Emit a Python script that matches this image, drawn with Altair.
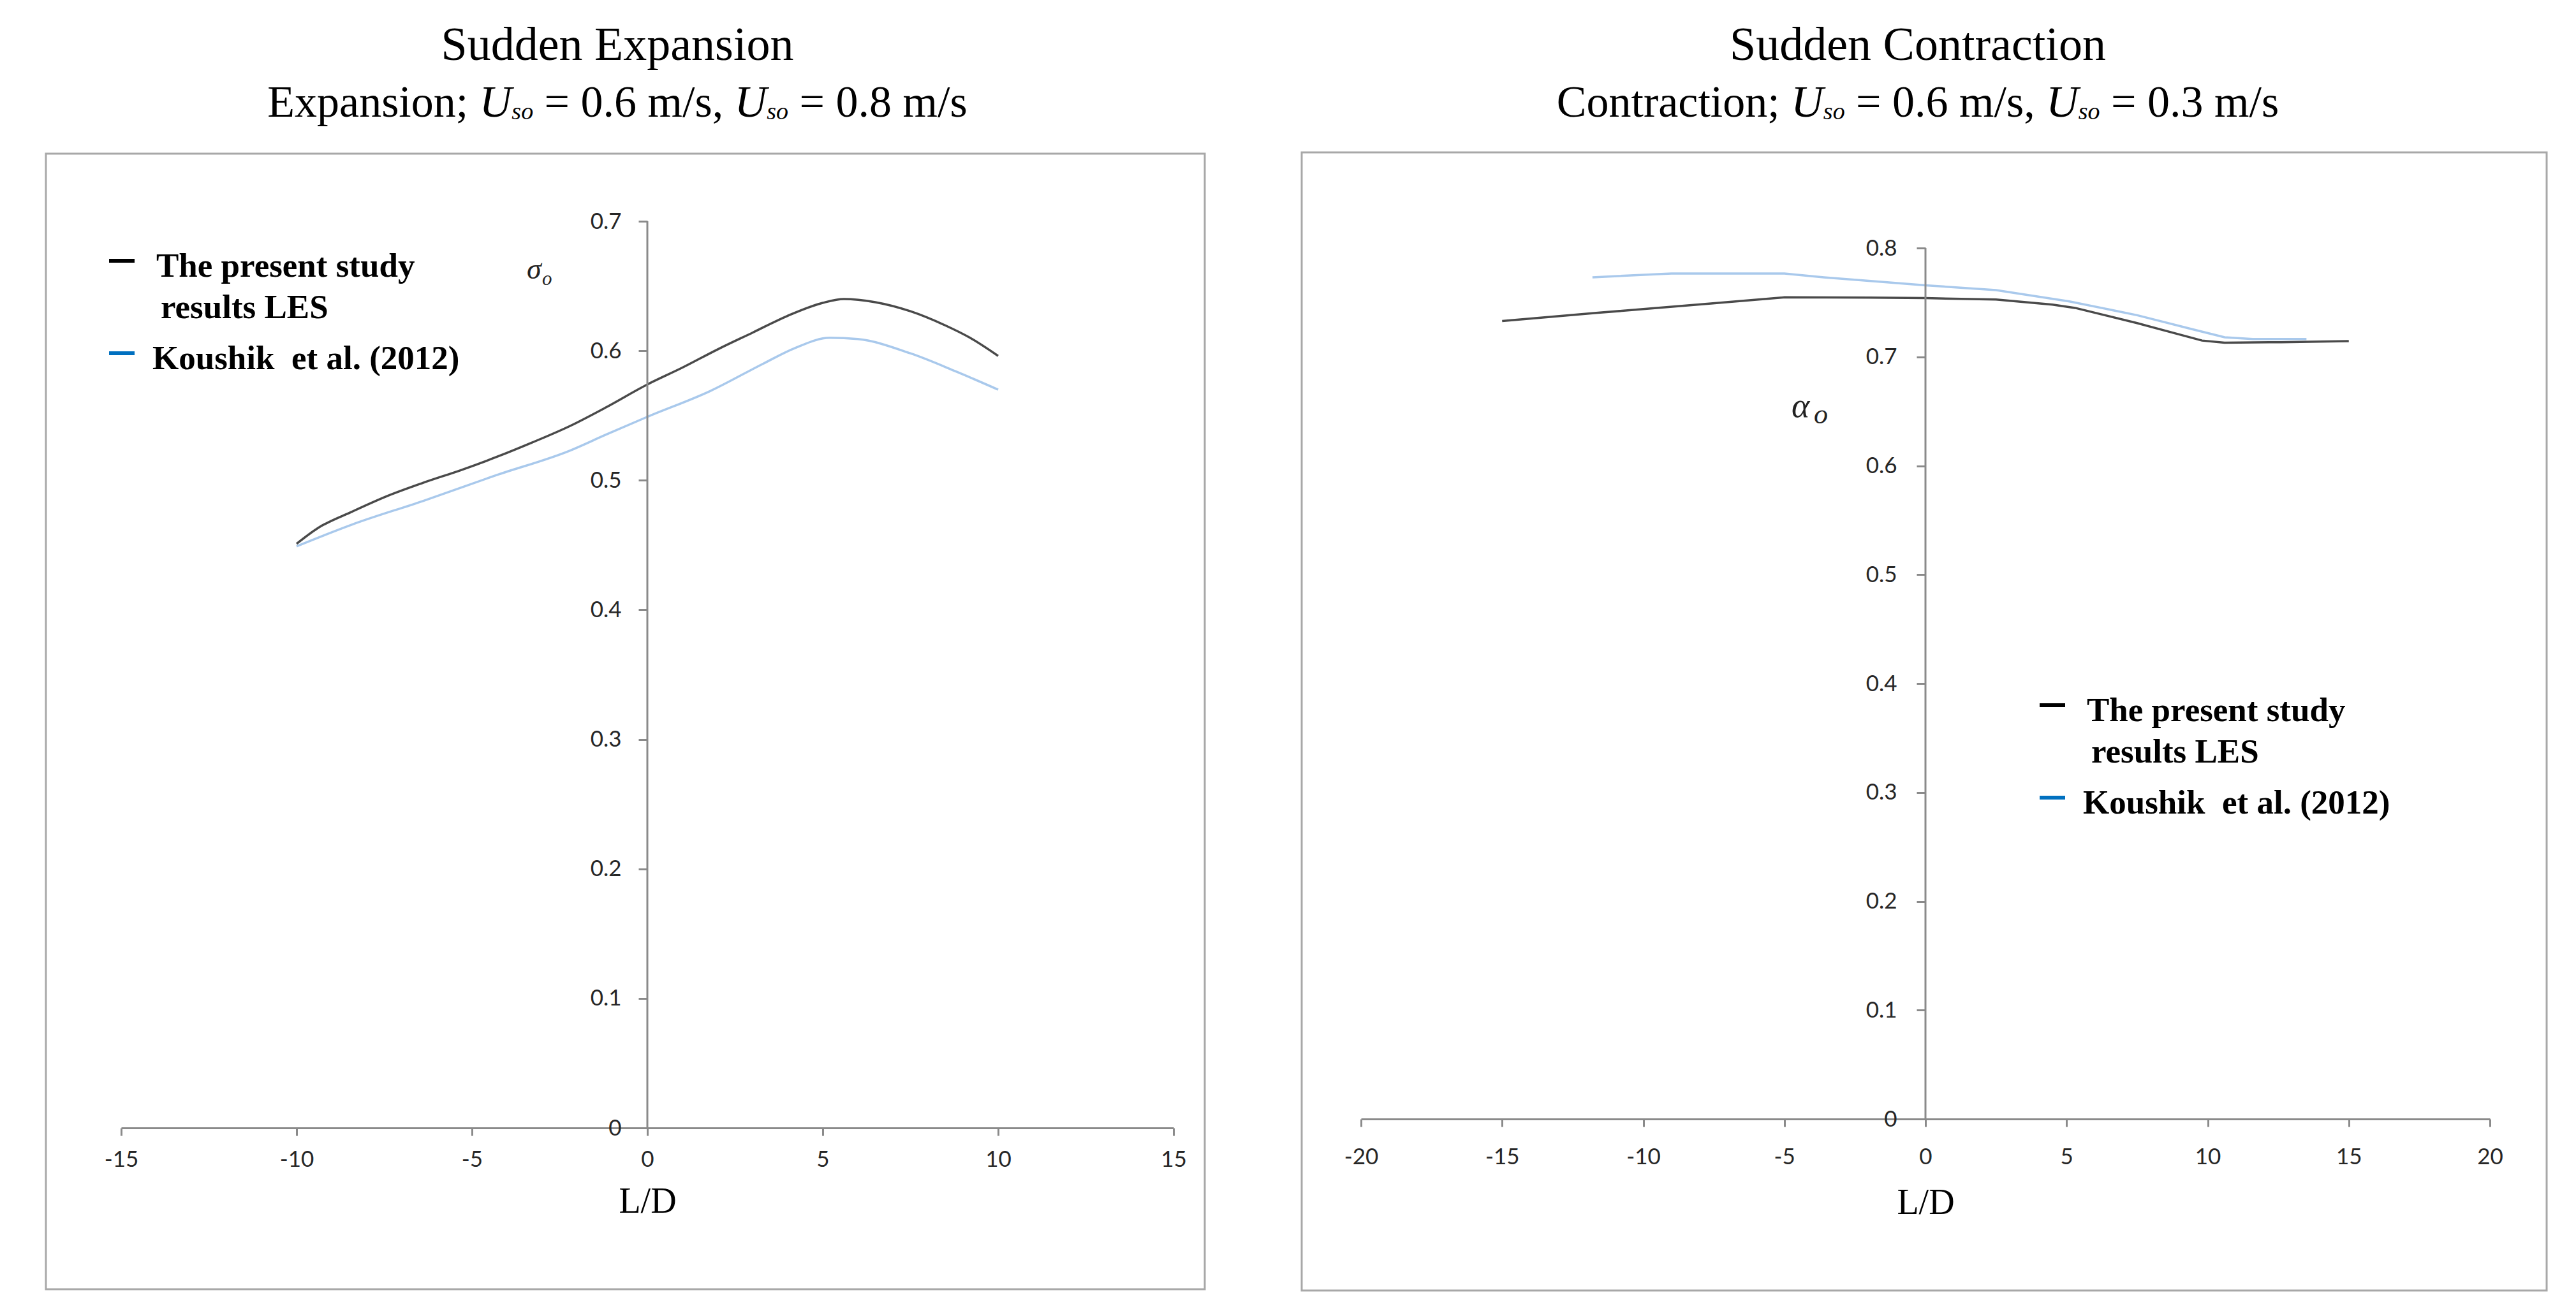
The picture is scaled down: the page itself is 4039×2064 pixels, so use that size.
import altair as alt
import pandas as pd

# ---------------- data ----------------
exp_les_x = [-10, -9.4, -8.4, -7.4, -6.4, -5.3, -4.3, -3.3, -2.2, -1.2, 0, 1, 2, 3, 4, 5, 5.6, 6.5, 7.5, 8.5, 9.2, 10]
exp_les_y = [0.451, 0.463, 0.476, 0.488, 0.498, 0.508, 0.518, 0.529, 0.542, 0.556, 0.574, 0.587, 0.601, 0.614,
             0.627, 0.637, 0.640, 0.6375, 0.6305, 0.6195, 0.610, 0.596]
exp_kou_x = [-10, -8.4, -6.4, -4.3, -2.2, -1.2, 0, 1.8, 3.3, 4.2, 5.2, 6, 7.5, 8.8, 10]
exp_kou_y = [0.449, 0.466, 0.484, 0.504, 0.523, 0.535, 0.549, 0.569, 0.590, 0.602, 0.610, 0.609,
             0.598, 0.584, 0.570]

con_les_x = [-15, -11.6, -7.6, -5, -2, 0, 2.5, 4.5, 5.3, 7.5, 9.8, 10.6, 12.6, 15]
con_les_y = [0.733, 0.7405, 0.749, 0.7547, 0.7545, 0.754, 0.7527, 0.748, 0.745, 0.731, 0.715, 0.7131, 0.7135, 0.7145]
con_kou_x = [-11.8, -9, -5, -3.6, -1.5, 0, 2.5, 5.1, 7.5, 9.4, 10.6, 11.6, 13.5]
con_kou_y = [0.7731, 0.7766, 0.7766, 0.7731, 0.7688, 0.7658, 0.7613, 0.751, 0.7383, 0.7258, 0.718, 0.7164, 0.7164]

series_names = ["The present study results LES", "Koushik et al. (2012)"]
legend_lines = ["The present study", "results LES", "Koushik\u00a0 et al. (2012)"]

exp_x_ticks = [-15, -10, -5, 0, 5, 10, 15]
exp_y_ticks = [0, 0.1, 0.2, 0.3, 0.4, 0.5, 0.6, 0.7]
con_x_ticks = [-20, -15, -10, -5, 0, 5, 10, 15, 20]
con_y_ticks = [0, 0.1, 0.2, 0.3, 0.4, 0.5, 0.6, 0.7, 0.8]

exp_title = "Sudden Expansion"
exp_sub_parts = [("Expansion; ", "reg"), ("U", "ital"), ("so", "sub"), (" = 0.6 m/s, ", "reg"),
                 ("U", "ital"), ("so", "sub"), (" = 0.8 m/s", "reg")]
con_title = "Sudden Contraction"
con_sub_parts = [("Contraction; ", "reg"), ("U", "ital"), ("so", "sub"), (" = 0.6 m/s, ", "reg"),
                 ("U", "ital"), ("so", "sub"), (" = 0.3 m/s", "reg")]
x_title = "L/D"
exp_ylab = ("σ", "o")
con_ylab = ("α", "o")

# ---------------- style ----------------
SERIF = "Liberation Serif"
LABEL_FONT = "Lato"
AXIS_GRAY = "#8a8a8a"
BOX_GRAY = "#a8a8a8"
LINE_COLORS = ["#4a4a4a", "#a9c9ec"]
LEG_COLORS = ["#000000", "#0070c0"]

REG = {'S': 556, 'u': 500, 'd': 500, 'e': 444, 'n': 500, ' ': 250, 'E': 611, 'x': 500, 'p': 500, 'a': 444,
       's': 389, 'i': 278, 'o': 500, ';': 278, '=': 564, '0': 500, '.': 250, '6': 500, 'm': 778, '/': 278,
       ',': 250, '8': 500, '3': 500, 'C': 667, 't': 278, 'r': 333, 'c': 444}
ITA = {'U': 722, 's': 389, 'o': 500}


def one(text):
    return pd.DataFrame({"t": [text]})


def text_layer(text, x, y, size, style="normal", weight="normal", align="left", font=SERIF, color="black"):
    return alt.Chart(one(text)).mark_text(
        align=align, baseline="alphabetic", font=font, fontSize=size, fontStyle=style,
        fontWeight=weight, color=color
    ).encode(x=alt.value(x), y=alt.value(y), text="t:N")


def title_layers(line1, parts, cx, y1, y2, F=70, F1=74, subF=38, sub_dy=4):
    layers = [text_layer(line1, cx, y1, F1, align="center")]
    widths = []
    for text, kind in parts:
        if kind == "reg":
            widths.append(sum(REG[c] for c in text) / 1000 * F)
        elif kind == "ital":
            widths.append(sum(ITA[c] for c in text) / 1000 * F)
        else:
            widths.append(sum(ITA[c] for c in text) / 1000 * subF)
    x = cx - sum(widths) / 2
    for (text, kind), w in zip(parts, widths):
        lead = (len(text) - len(text.lstrip(" "))) * REG[' '] / 1000 * F
        t = text.strip(" ")
        if kind == "reg":
            layers.append(text_layer(t, x + lead, y2, F))
        elif kind == "ital":
            layers.append(text_layer(t, x, y2, F, style="italic"))
        else:
            layers.append(text_layer(t, x, y2 + sub_dy, subF, style="italic"))
        x += w
    return layers


def legend_layers(dx, dy):
    rows = []
    rows.append(alt.Chart(one("a")).mark_rule(color=LEG_COLORS[0], strokeWidth=6).encode(
        x=alt.value(dx), x2=alt.value(dx + 40), y=alt.value(dy)))
    rows.append(text_layer(legend_lines[0], dx + 74, dy + 25, 53, weight="bold"))
    rows.append(text_layer(legend_lines[1], dx + 81, dy + 90, 53, weight="bold"))
    rows.append(alt.Chart(one("b")).mark_rule(color=LEG_COLORS[1], strokeWidth=6).encode(
        x=alt.value(dx), x2=alt.value(dx + 40), y=alt.value(dy + 145)))
    rows.append(text_layer(legend_lines[2], dx + 68, dy + 170, 53, weight="bold"))
    return rows


def panel(les_x, les_y, kou_x, kou_y, xdom, ydom, xticks, yticks, W, H, yoff, box, interp,
          title_args, legend_pos, ylab, ylab_pos, lab_pad_x, title_pad_x, lab_pad_y):
    df = pd.DataFrame({
        "ld": les_x + kou_x,
        "v": les_y + kou_y,
        "series": [series_names[0]] * len(les_x) + [series_names[1]] * len(kou_x),
    })
    lines = alt.Chart(df).mark_line(strokeWidth=3.5, interpolate=interp).encode(
        x=alt.X("ld:Q", scale=alt.Scale(domain=xdom, nice=False, zero=False),
                axis=alt.Axis(values=xticks, title=x_title, grid=False, labelFlush=False,
                              labelExpr="toString(datum.value)",
                              labelFont=LABEL_FONT, labelFontSize=35, labelColor="#262626",
                              labelPadding=lab_pad_x, tickSize=12, tickWidth=3, tickColor=AXIS_GRAY,
                              domainColor=AXIS_GRAY, domainWidth=3, titleFont=SERIF,
                              titleFontSize=56, titleFontWeight="normal", titleColor="black",
                              titlePadding=title_pad_x, labelOverlap=False)),
        y=alt.Y("v:Q", scale=alt.Scale(domain=ydom, nice=False, zero=False),
                axis=alt.Axis(values=yticks, title=None, grid=False, format=".1~f", offset=yoff,
                              labelFont=LABEL_FONT, labelFontSize=35, labelColor="#262626",
                              labelPadding=lab_pad_y, tickSize=14, tickWidth=3, tickColor=AXIS_GRAY,
                              domain=False, labelOverlap=False, labelFlush=False)),
        color=alt.Color("series:N", scale=alt.Scale(domain=series_names, range=LINE_COLORS), legend=None),
    )
    # vertical axis line at L/D = 0, from the first to the last y tick
    yline = alt.Chart(pd.DataFrame({"ld": [0], "v": [yticks[0]], "v2": [yticks[-1]]})).mark_rule(
        color=AXIS_GRAY, strokeWidth=3).encode(x="ld:Q", y="v:Q", y2="v2:Q")
    bx0, bx1, by0, by1 = box
    frame = alt.Chart(one("f")).mark_rect(fillOpacity=0, stroke=BOX_GRAY, strokeWidth=3).encode(
        x=alt.value(bx0), x2=alt.value(bx1), y=alt.value(by0), y2=alt.value(by1))
    (gx, gy, gsize, ox, oy, osize) = ylab_pos
    ylayers = [text_layer(ylab[0], gx, gy, gsize, style="italic", color="#222222"),
               text_layer(ylab[1], ox, oy, osize, style="italic", color="#222222")]
    layers = [frame, lines, yline] + legend_layers(*legend_pos) + ylayers + title_layers(*title_args)
    return alt.layer(*layers).properties(width=W, height=H)


# left: plot area 1650 x 1422 px; right: view top aligned with left, y-range 0..0.8 spans 1366 px
R_TOP = 1408 / 1366 * 0.8

left = panel(exp_les_x, exp_les_y, exp_kou_x, exp_kou_y, [-15, 15], [0, 0.7], exp_x_ticks, exp_y_ticks,
             1650, 1422, -825, (-118, 1699, -106, 1675), "monotone",
             (exp_title, exp_sub_parts, 778, -253, -164), (-19, 62), exp_ylab,
             (636, 90, 46, 660, 100, 31), 20, 21, 27)
right = panel(con_les_x, con_les_y, con_kou_x, con_kou_y, [-20, 20], [0, R_TOP], con_x_ticks, con_y_ticks,
              1770, 1408, -885, (-93, 1859, -108, 1677), "linear",
              (con_title, con_sub_parts, 873, -253, -164), (1064, 759), con_ylab,
              (675, 307, 54, 710, 317, 44), 30, 27, 31)

chart = alt.hconcat(left, right, spacing=148).properties(
    padding={"left": 62, "top": 27, "right": 0, "bottom": 0}
).configure(
    background="white",
    view=alt.ViewConfig(stroke="transparent", strokeWidth=0),
)

chart.save("out.html", embed_options={"renderer": "svg", "actions": False})
